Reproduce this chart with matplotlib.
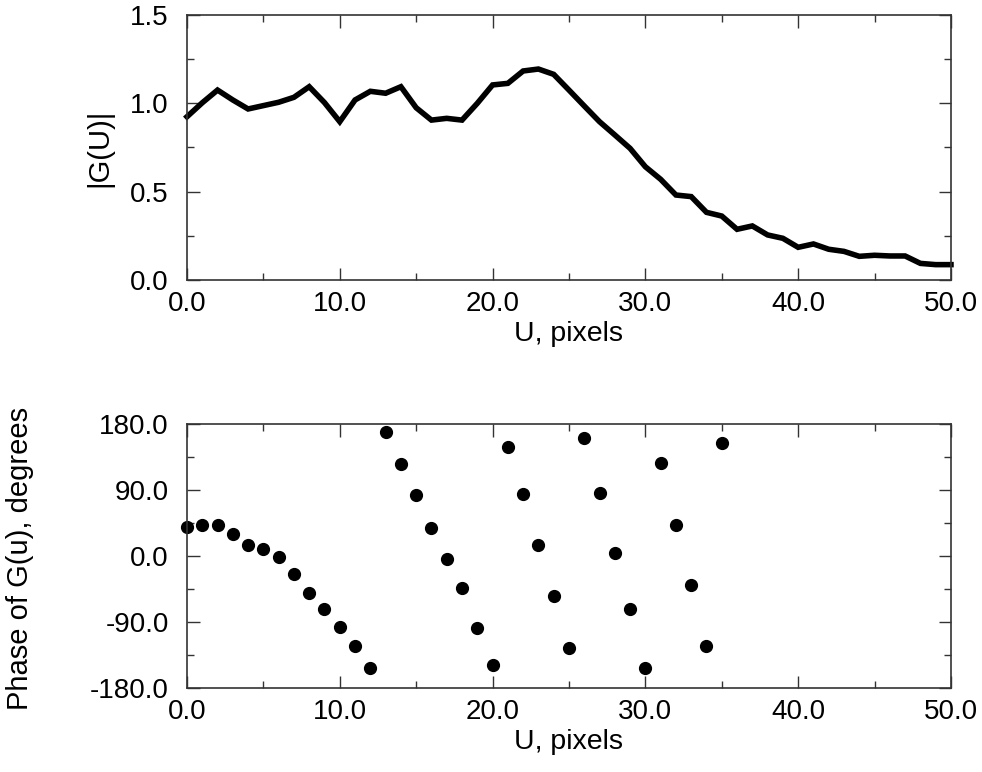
import matplotlib
matplotlib.use("Agg")
import matplotlib.pyplot as plt
from matplotlib.ticker import MultipleLocator, FormatStrFormatter

plt.rcParams['font.family'] = ['Liberation Sans', 'DejaVu Sans']
plt.rcParams['axes.unicode_minus'] = False

u_mag = list(range(0, 51))
mag = [0.924, 1.003, 1.075, 1.019, 0.968, 0.987, 1.006, 1.034, 1.094, 1.004,
       0.896, 1.019, 1.068, 1.057, 1.094, 0.975, 0.905, 0.915, 0.905, 1.000,
       1.104, 1.113, 1.183, 1.194, 1.164, 1.075, 0.985, 0.896, 0.821, 0.745,
       0.641, 0.570, 0.481, 0.472, 0.383, 0.362, 0.287, 0.306, 0.255, 0.236,
       0.185, 0.204, 0.174, 0.162, 0.134, 0.140, 0.136, 0.136, 0.094, 0.087,
       0.087]

u_phase = list(range(0, 36))
phase = [39.3, 42.9, 42.9, 30.2, 15.2, 9.3, -0.7, -24.8, -50.6, -72.0,
         -97.0, -122.4, -152.8, 169.1, 125.5, 83.3, 37.9, -4.3, -44.3, -98.8,
         -149.2, 149.1, 84.7, 15.2, -54.3, -125.1, 160.5, 85.6, 3.9, -72.4,
         -152.8, 127.3, 42.4, -39.3, -123.3, 154.6]

x_label = "U, pixels"
y_label_top = "|G(U)|"
y_label_bottom = "Phase of G(u), degrees"

fig = plt.figure(figsize=(9.82, 7.72), dpi=100)
ax1 = fig.add_axes([0.1904, 0.6373, 0.778, 0.3433])
ax2 = fig.add_axes([0.1904, 0.1088, 0.778, 0.342])

FS = 20
spine_col = '#333333'

def style(ax):
    for s in ax.spines.values():
        s.set_color(spine_col)
        s.set_linewidth(1.2)
    ax.tick_params(which='both', direction='in', top=True, right=True,
                   color=spine_col, labelsize=FS, width=1.0)
    ax.tick_params(axis='x', which='major', length=9, pad=8)
    ax.tick_params(axis='y', which='major', length=9, pad=13)
    ax.tick_params(which='minor', length=5)
    ax.set_xlim(0, 50)
    ax.xaxis.set_major_locator(MultipleLocator(10))
    ax.xaxis.set_minor_locator(MultipleLocator(5))
    ax.xaxis.set_major_formatter(FormatStrFormatter('%.1f'))
    ax.set_xlabel(x_label, fontsize=20.5, labelpad=3)

ax1.plot(u_mag, mag, color='black', lw=4.0, solid_joinstyle='miter', clip_on=False)
style(ax1)
ax1.set_ylim(0, 1.5)
ax1.yaxis.set_major_locator(MultipleLocator(0.5))
ax1.yaxis.set_minor_locator(MultipleLocator(0.25))
ax1.yaxis.set_major_formatter(FormatStrFormatter('%.1f'))
ax1.set_ylabel(y_label_top, fontsize=21)
ax1.yaxis.set_label_coords(-0.0969, 0.5)

ax2.plot(u_phase, phase, 'o', color='black', markersize=8.5, clip_on=False)
style(ax2)
ax2.set_ylim(-180, 180)
ax2.yaxis.set_major_locator(MultipleLocator(90))
ax2.yaxis.set_minor_locator(MultipleLocator(45))
ax2.yaxis.set_major_formatter(FormatStrFormatter('%.1f'))
ax2.set_ylabel(y_label_bottom, fontsize=21)
ax2.yaxis.set_label_coords(-0.2003, 0.49)

fig.savefig('out.png', dpi=100)
